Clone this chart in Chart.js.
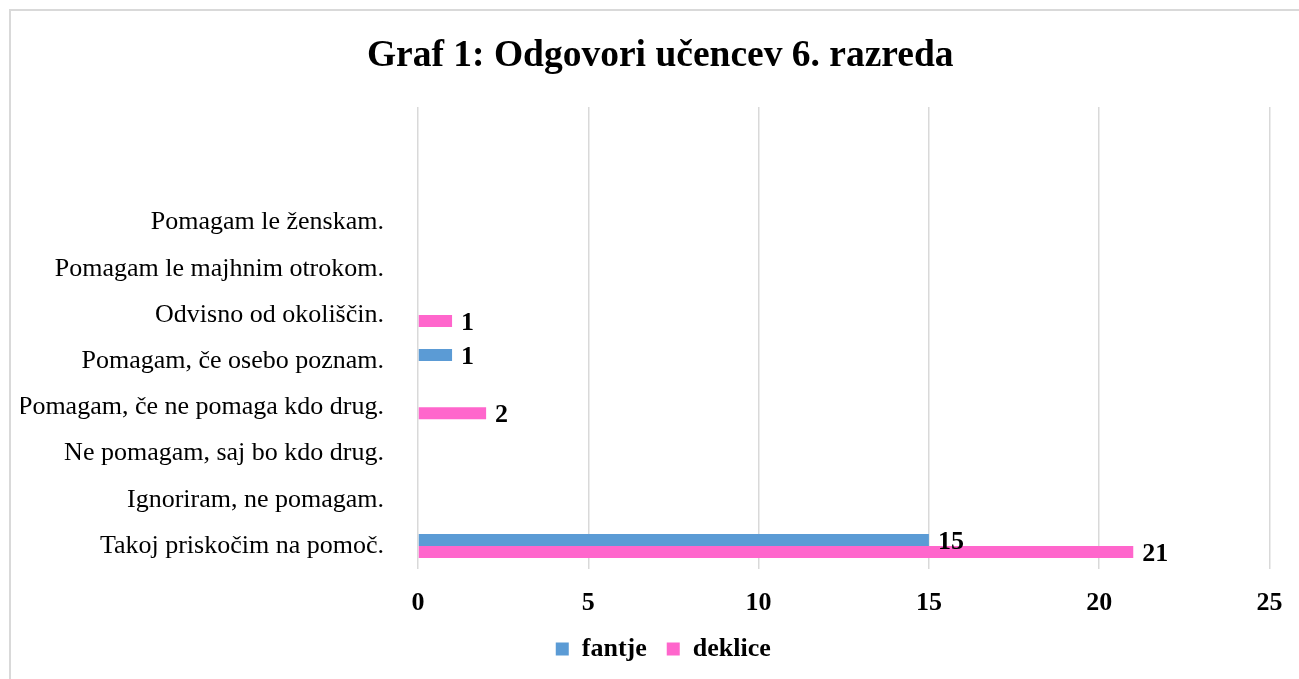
<!DOCTYPE html>
<html>
<head>
<meta charset="utf-8">
<script src="https://cdn.jsdelivr.net/npm/chart.js@4/dist/chart.umd.min.js"></script>
<style>
  html, body { margin: 0; padding: 0; background: #fff; overflow: hidden; }
  #frame { position: absolute; left: 9px; top: 9px; width: 1310px; height: 700px; border: 2px solid #d9d9d9; }
  #wrap { position: absolute; left: 11px; top: 11px; width: 1300px; height: 668px; }
</style>
</head>
<body>
<div id="frame"></div>
<div id="wrap"><canvas id="c"></canvas></div>
<script>
const categories = [
  "Takoj priskočim na pomoč.",
  "Ignoriram, ne pomagam.",
  "Ne pomagam, saj bo kdo drug.",
  "Pomagam, če ne pomaga kdo drug.",
  "Pomagam, če osebo poznam.",
  "Odvisno od okoliščin.",
  "Pomagam le majhnim otrokom.",
  "Pomagam le ženskam.",
  "",
  ""
];
const fantje  = [15, 0, 0, 0, 1, 0, 0, 0, null, null];
const deklice = [21, 0, 0, 2, 0, 1, 0, 0, null, null];
const xTicks = [0, 5, 10, 15, 20, 25];
const titleText = "Graf 1: Odgovori učencev 6. razreda";

const SERIF = '"Liberation Serif", "Times New Roman", serif';

const valueLabels = {
  id: 'valueLabels',
  afterDatasetsDraw(chart) {
    const ctx = chart.ctx;
    ctx.save();
    ctx.font = 'bold 26px ' + SERIF;
    ctx.fillStyle = '#000';
    ctx.textAlign = 'left';
    ctx.textBaseline = 'middle';
    chart.data.datasets.forEach((ds, i) => {
      const meta = chart.getDatasetMeta(i);
      meta.data.forEach((bar, j) => {
        const v = ds.data[j];
        if (v) ctx.fillText(String(v), bar.x + 9, bar.y + 2);
      });
    });
    ctx.restore();
  }
};

// centre title and legend the way the original frame does
const shiftBoxes = {
  id: 'shiftBoxes',
  afterLayout(chart) {
    const t = chart.titleBlock;
    if (t) { t.left += 15; t.right += 15; }
    const l = chart.legend;
    if (l) { l.left += 18; l.right += 18; }
  }
};

new Chart(document.getElementById('c'), {
  type: 'bar',
  data: {
    labels: categories,
    datasets: [
      { label: 'fantje', data: fantje, backgroundColor: '#5B9BD5', borderWidth: 0, inflateAmount: 0, barThickness: 12 },
      { label: 'deklice', data: deklice, backgroundColor: '#FF66CC', borderWidth: 0, inflateAmount: 0, barThickness: 12 }
    ]
  },
  options: {
    indexAxis: 'y',
    responsive: true,
    maintainAspectRatio: false,
    animation: false,
    layout: { padding: { left: 10, right: 41.5, top: 0, bottom: 7 } },
    scales: {
      x: {
        min: 0, max: 25,
        afterBuildTicks(scale) { scale.ticks = xTicks.map(v => ({ value: v })); },
        afterFit(scale) { scale.height = 47; },
        grid: { color: '#d9d9d9', lineWidth: 1.5, drawTicks: false },
        border: { display: false },
        ticks: { color: '#000', padding: 18.5, font: { family: SERIF, size: 26, weight: 'bold', lineHeight: 1.2308 } }
      },
      y: {
        reverse: true,
        grid: { display: false, drawTicks: false },
        border: { display: false },
        afterFit(scale) { scale.width = 397; },
        ticks: { color: '#000', padding: 34, autoSkip: false, font: { family: SERIF, size: 26 } }
      }
    },
    plugins: {
      title: {
        display: true,
        text: titleText,
        color: '#000',
        font: { family: SERIF, size: 37.5, weight: 'bold' },
        padding: { top: 23, bottom: 28 }
      },
      legend: {
        position: 'bottom',
        labels: { color: '#000', boxWidth: 13, boxHeight: 13, padding: 20, font: { family: SERIF, size: 26, weight: 'bold' } }
      },
      tooltip: { enabled: false }
    }
  },
  plugins: [valueLabels, shiftBoxes]
});
</script>
</body>
</html>
